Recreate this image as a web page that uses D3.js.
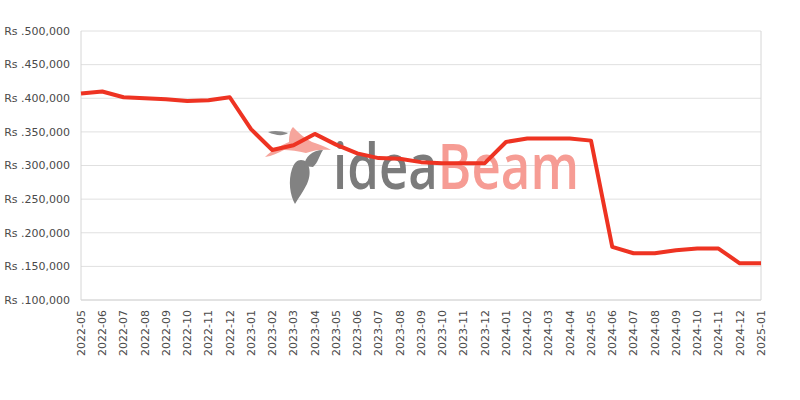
<!DOCTYPE html>
<html>
<head>
<meta charset="utf-8">
<script src="https://cdn.jsdelivr.net/npm/d3@7"></script>
<style>
  html, body { margin: 0; padding: 0; background: #fff; }
  svg { display: block; }
</style>
</head>
<body>
<svg id="chart" width="800" height="400"></svg>
<script>
const months = ["2022-05","2022-06","2022-07","2022-08","2022-09","2022-10","2022-11","2022-12",
  "2023-01","2023-02","2023-03","2023-04","2023-05","2023-06","2023-07","2023-08","2023-09","2023-10","2023-11","2023-12",
  "2024-01","2024-02","2024-03","2024-04","2024-05","2024-06","2024-07","2024-08","2024-09","2024-10","2024-11","2024-12",
  "2025-01"];
const prices = [407000,410000,401500,400000,398500,396000,397000,401500,
  354000,323000,330000,347000,331000,318000,311000,310000,305000,303500,303500,303500,
  335000,340000,340000,340000,337000,179000,169500,169500,174000,176500,176500,154500,
  154500];
const yTicks = [100000,150000,200000,250000,300000,350000,400000,450000,500000];

(function () {
const svg = d3.select("#chart");
const pl = 81, pr = 761, pt = 31, pb = 300;

const x = d3.scalePoint().domain(months).range([pl, pr]).padding(0);
const y = d3.scaleLinear().domain([100000, 500000]).range([pb, pt]);

// grid
svg.append("g").selectAll("line").data(yTicks).join("line")
  .attr("x1", pl).attr("x2", pr)
  .attr("y1", d => y(d)).attr("y2", d => y(d))
  .attr("stroke", "#e0e0e0").attr("stroke-width", 1);

// frame lines
svg.append("line").attr("x1", pl).attr("x2", pl).attr("y1", pt).attr("y2", pb)
  .attr("stroke", "#d6d6d6");
svg.append("line").attr("x1", pr).attr("x2", pr).attr("y1", pt).attr("y2", pb)
  .attr("stroke", "#d6d6d6");
svg.append("line").attr("x1", pl).attr("x2", pr).attr("y1", pb).attr("y2", pb)
  .attr("stroke", "#d6d6d6");

// y labels
const fmt = d3.format(",");
svg.append("g").selectAll("text").data(yTicks).join("text")
  .attr("x", 70).attr("y", d => y(d)).attr("dy", "0.35em")
  .attr("text-anchor", "end")
  .attr("font-family", "DejaVu Sans, sans-serif").attr("font-size", 11)
  .attr("fill", "#4a4a4a")
  .text(d => "Rs ." + fmt(d));

// x labels
svg.append("g").selectAll("text").data(months).join("text")
  .attr("transform", d => `translate(${x(d)},${pb + 10}) rotate(-90)`)
  .attr("dy", "0.35em")
  .attr("text-anchor", "end")
  .attr("font-family", "DejaVu Sans, sans-serif").attr("font-size", 11)
  .attr("fill", "#4a4a4a")
  .text(d => d);

// watermark
const wm = svg.append("g");
wm.append("path")
  .attr("d", "M301,160 C310,160 312,174 307,184 C303,192 299,197 295,204 C290,195 288,181 292,169 C294,163 297,160 301,160 Z")
  .attr("fill", "#828282");
wm.append("path")
  .attr("d", "M304,166 C305,157 312,150 323,150 C319,156 318,163 313,167 Z").attr("fill", "#828282");
wm.append("path")
  .attr("d", "M265,157 C272,150 280,146 289,142 C289,136 290,130 293,127 C298,132 304,138 312,142 C320,145 327,147 331,150 C322,149 314,150 306,153 C298,151 290,150 284,150 C278,153 272,156 265,157 Z")
  .attr("fill", "#f6a59c");
wm.append("path")
  .attr("d", "M268,132 C274,130 282,131 288,133 C284,136 276,136 268,132 Z").attr("fill", "#8a8a8a");
const wt = wm.append("text").attr("x", 333).attr("y", 189)
  .attr("font-family", "Open Sans, sans-serif").attr("font-size", 64).attr("font-weight", 600)
  .attr("textLength", 246).attr("lengthAdjust", "spacingAndGlyphs");
wt.append("tspan").attr("fill", "#7b7b7b").text("idea");
wt.append("tspan").attr("fill", "#f69c94").text("Beam");

// line
const line = d3.line().x((d, i) => x(months[i])).y(d => y(d));
svg.append("path").datum(prices)
  .attr("d", line)
  .attr("fill", "none")
  .attr("stroke", "#ee3322")
  .attr("stroke-width", 4)
  .attr("stroke-linejoin", "round");
})();
</script>
</body>
</html>
